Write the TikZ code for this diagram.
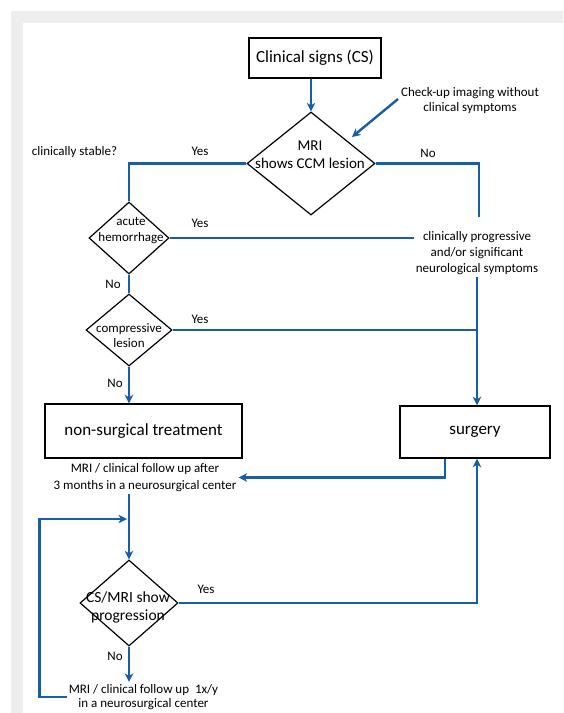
\documentclass[tikz,border=0pt]{standalone}
\usepackage{fontspec}
\setmainfont{Carlito}
\usetikzlibrary{shapes.geometric,arrows.meta,calc}
\definecolor{flowblue}{RGB}{22,94,168}
\definecolor{framegray}{RGB}{238,238,238}
\begin{document}
\begin{tikzpicture}[x=1pt,y=-1pt,
  conn/.style={draw=flowblue,line width=2.4pt},
  arr/.style={conn,-{Stealth[length=8.5pt,width=8.5pt,inset=2.5pt]}},
  boxnode/.style={draw=black,line width=1.4pt,rectangle,inner sep=0pt},
  decision/.style={draw=black,line width=1.2pt,diamond,inner sep=0pt,aspect=1},
  lbl/.style={inner sep=2pt,font=\fontsize{13}{16}\selectfont,align=center},
  big/.style={font=\fontsize{17}{20}\selectfont},
]
\useasboundingbox (0,0) rectangle (563,713);
\fill[white] (0,0) rectangle (563,713);
\fill[framegray] (11,11) rectangle (563,713);
\fill[white] (23,23) rectangle (563,713);

% nodes
\node[boxnode,big,minimum width=132pt,minimum height=40pt] (cs) at (315,58) {Clinical signs (CS)};
\node[decision,minimum width=128pt,minimum height=103pt] (mri) at (311,163.5) {};
\node[lbl,font=\fontsize{15}{18}\selectfont] (mritxt) at (310,155) {MRI\\shows CCM lesion};
\node[lbl,font=\fontsize{13}{15}\selectfont] (ck) at (470,100.5) {Check-up imaging without\\clinical symptoms};
\coordinate (ckfrom) at (398,99);
\coordinate (ckto) at (352,137);

\node[lbl] (stable) at (74.5,152) {clinically stable?};
\node[lbl] (yes1) at (200,151) {Yes};
\node[lbl] (no1) at (428,153) {No};

\node[decision,minimum width=80pt,minimum height=72pt] (acute) at (129,238) {};
\node[lbl] (acutetxt) at (131,231) {acute\\hemorrhage};
\node[lbl] (yes2) at (200,223) {Yes};
\node[lbl] (cp) at (477,253) {clinically progressive\\and/or significant\\neurological symptoms};
\node[lbl] (no2) at (113,284) {No};

\node[decision,minimum width=86pt,minimum height=72pt] (comp) at (129,330) {};
\node[lbl,font=\fontsize{13}{15}\selectfont] (comptxt) at (129,335.5) {compressive\\lesion};
\node[lbl] (yes3) at (200,319) {Yes};
\node[lbl] (no3) at (115,383) {No};

\node[boxnode,big,minimum width=197pt,minimum height=54pt] (ns) at (143.5,431) {non-surgical treatment};
\node[boxnode,big,minimum width=150pt,minimum height=52pt] (surg) at (475,432) {surgery};

\node[lbl,font=\fontsize{13}{17}\selectfont] (fu1) at (145,477.5) {MRI / clinical follow up after\\3 months in a neurosurgical center};

\node[decision,minimum width=98pt,minimum height=86pt] (csmri) at (129,603) {};
\node[lbl,font=\fontsize{15.5}{18}\selectfont] (csmritxt) at (128,607) {CS/MRI show\\progression};
\node[lbl] (yes4) at (206,589) {Yes};
\node[lbl] (no4) at (115,656) {No};

\node[lbl,font=\fontsize{13}{14.5}\selectfont] (fu2) at (143.5,697) {MRI / clinical follow up\ \ 1x/y\\in a neurosurgical center};

% connectors
\draw[arr] (mri.north |- cs.south) -- (mri.north);
\draw[arr] (ckfrom) -- (ckto);
\draw[conn] (mri.west) -| (acute.north);
\coordinate (nocorner) at (479,217);
\draw[conn] (mri.east) -| (nocorner);
\draw[conn] (acute.east) -- (acute.east -| cp.west);
\draw[conn] (acute.south) -- (comp.north);
\draw[conn] (comp.east) -- (comp.east -| cp.south);
\draw[arr] (cp.south) -- (cp.south |- surg.north);
\draw[arr] (comp.south) -- (comp.south |- ns.north);
\coordinate (surgout) at ($(surg.south west)!0.3!(surg.south east)$);
\draw[arr] (surgout) |- (fu1.east);
\draw[arr] (fu1.south -| csmri.north) -- (csmri.north);
\draw[arr] (csmri.south) -- (csmri.south |- fu2.north);
\coordinate (loopin) at (127,519);
\draw[arr] (fu2.west) -- ++(-27,0) |- (loopin);
\draw[arr] (csmri.east) -| (surg.south -| cp.south);
\end{tikzpicture}
\end{document}
